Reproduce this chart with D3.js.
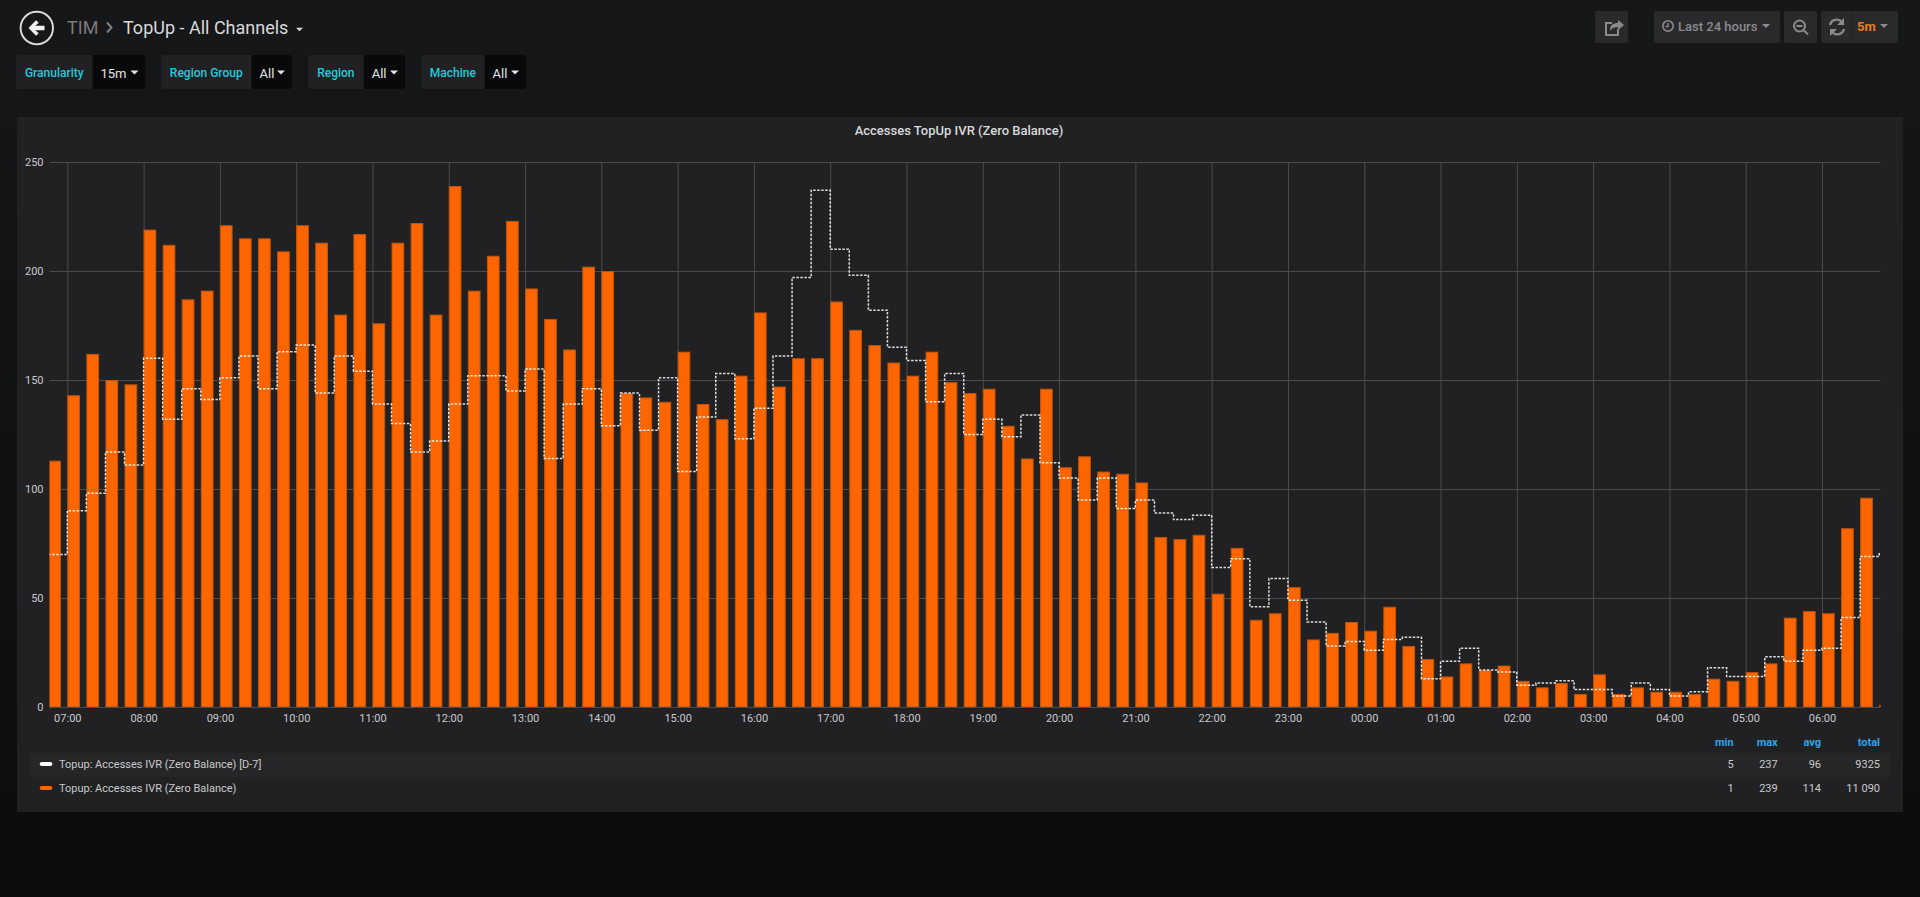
<!DOCTYPE html>
<html>
<head>
<meta charset="utf-8">
<title>TopUp - All Channels</title>
<script src="https://cdn.jsdelivr.net/npm/d3@7"></script>
<style>
  html, body { margin: 0; height: 100%; overflow: hidden; background: #0b0c0e; }
  svg { display: block; font-family: Roboto, sans-serif; }
  .tick text { fill: #c8c9ca; font-size: 11px; font-family: Roboto, sans-serif; }
  .tick line { stroke: #4b4b4d; }
  .domain { display: none; }
</style>
</head>
<body>
<svg id="page" width="1920" height="897"></svg>
<script>
const startTime = new Date(2019, 0, 7, 6, 45);
const yTicks = [0, 50, 100, 150, 200, 250];

// one value per 15 minutes, from 06:45 to 06:45 next day
const accesses = [
  113, 143, 162, 150, 148, 219, 212, 187, 191, 221, 215, 215, 209, 221, 213, 180,
  217, 176, 213, 222, 180, 239, 191, 207, 223, 192, 178, 164, 202, 200, 144, 142,
  140, 163, 139, 132, 152, 181, 147, 160, 160, 186, 173, 166, 158, 152, 163, 149,
  144, 146, 129, 114, 146, 110, 115, 108, 107, 103, 78, 77, 79, 52, 73, 40,
  43, 55, 31, 34, 39, 35, 46, 28, 22, 14, 20, 17, 19, 12, 9, 11,
  6, 15, 6, 9, 7, 7, 6, 13, 12, 16, 20, 41, 44, 43, 82, 96, 1,
];
const accessesD7 = [
  70, 90, 98, 117, 111, 160, 132, 146, 141, 151, 161, 146, 163, 166, 144, 161,
  154, 139, 130, 117, 122, 139, 152, 152, 145, 155, 114, 139, 146, 129, 144, 127,
  151, 108, 133, 153, 123, 137, 161, 197, 237, 210, 198, 182, 165, 159, 140, 153,
  125, 132, 124, 134, 112, 105, 95, 105, 91, 95, 89, 86, 88, 64, 68, 46,
  59, 49, 39, 28, 30, 26, 31, 32, 13, 21, 27, 17, 16, 10, 11, 12,
  8, 8, 5, 11, 8, 5, 7, 18, 14, 14, 23, 21, 26, 27, 41, 69, 71,
];

const legendNames = ['Topup: Accesses IVR (Zero Balance) [D-7]', 'Topup: Accesses IVR (Zero Balance)'];
const legendHeaders = ['min', 'max', 'avg', 'total'];
const legendStats = [['5', '237', '96', '9325'], ['1', '239', '114', '11 090']];

const svg = d3.select('#page');

// page background
const defs = svg.append('defs');
const bg = defs.append('linearGradient').attr('id', 'bg').attr('x2', 0).attr('y2', 1);
bg.append('stop').attr('offset', 0).attr('stop-color', '#161719');
bg.append('stop').attr('offset', 1).attr('stop-color', '#0b0c0e');
svg.append('rect').attr('width', 1920).attr('height', 897).attr('fill', 'url(#bg)');

drawHeader();
drawVariables();
drawToolbar();
drawPanel();

function addText(parent, x, y, text, size, fill, opts = {}) {
  return parent.append('text')
      .attr('x', x)
      .attr('y', y)
      .attr('dy', '0.35em')
      .attr('font-size', size)
      .attr('fill', fill)
      .attr('font-weight', opts.weight || 400)
      .attr('text-anchor', opts.anchor || 'start')
      .text(text);
}

function addCaret(parent, x, y, fill, size = 4) {
  parent.append('path')
      .attr('d', `M${x - size},${y - size / 2}h${size * 2}l${-size},${size}z`)
      .attr('fill', fill);
}

function drawHeader() {
  const g = svg.append('g');
  g.append('circle')
      .attr('cx', 36.8).attr('cy', 28).attr('r', 16.2)
      .attr('fill', 'none').attr('stroke', '#d8d9da').attr('stroke-width', 2);
  g.append('path')
      .attr('d', 'M28.5,28 L36,20.3 L38.8,22.8 L35.3,25.8 L44.5,25.8 L44.5,30.2 L35.3,30.2 L38.8,33.2 L36,35.7 Z')
      .attr('fill', '#f0f0f0');
  addText(g, 67, 27.5, 'TIM', 18, '#7b7b7e');
  g.append('path')
      .attr('d', 'M107,22.5 L111.5,27.5 L107,32.5')
      .attr('fill', 'none').attr('stroke', '#808083').attr('stroke-width', 2);
  addText(g, 123, 27.5, 'TopUp - All Channels', 18, '#d8d9da');
  addCaret(g, 299.5, 29.5, '#d8d9da', 3.5);
}

function drawVariables() {
  const vars = [
    {label: 'Granularity', value: '15m', x0: 16, x1: 92.5, x2: 145.5},
    {label: 'Region Group', value: 'All', x0: 161, x1: 251.5, x2: 292},
    {label: 'Region', value: 'All', x0: 308, x1: 363.7, x2: 405},
    {label: 'Machine', value: 'All', x0: 421, x1: 484.6, x2: 526},
  ];
  const g = svg.append('g');
  vars.forEach((v) => {
    g.append('rect').attr('x', v.x0).attr('y', 55).attr('width', v.x2 - v.x0).attr('height', 34)
        .attr('rx', 3).attr('fill', '#212124');
    g.append('path')
        .attr('d', `M${v.x1},55H${v.x2 - 3}a3,3 0 0 1 3,3V86a3,3 0 0 1 -3,3H${v.x1}Z`)
        .attr('fill', '#09090b');
    addText(g, (v.x0 + v.x1) / 2, 72.5, v.label, 12, '#24c8dc', {weight: 500, anchor: 'middle'});
    addText(g, v.x1 + 8, 73, v.value, 13, '#e3e3e3');
    addCaret(g, v.x2 - 11, 72.5, '#e3e3e3', 4);
  });
}

function drawToolbar() {
  const g = svg.append('g');
  const grey = '#8a8a8c';
  [[1595, 33], [1654, 126], [1784, 33], [1821, 77]].forEach(([x, w]) => {
    g.append('rect').attr('x', x).attr('y', 11).attr('width', w).attr('height', 32)
        .attr('rx', 2).attr('fill', '#2a2a2c');
  });
  g.append('rect').attr('x', 1852).attr('y', 11).attr('width', 1).attr('height', 32).attr('fill', '#232325');

  // share
  g.append('path')
      .attr('d', 'M1618,29v6h-12v-12h6')
      .attr('fill', 'none').attr('stroke', grey).attr('stroke-width', 2);
  g.append('path')
      .attr('d', 'M1610,31c0,-6 3,-8 8,-8v-3l6,5l-6,5v-3c-4,0 -6,1 -8,4z')
      .attr('fill', grey);

  // time range
  g.append('circle').attr('cx', 1668).attr('cy', 26).attr('r', 5.2)
      .attr('fill', 'none').attr('stroke', grey).attr('stroke-width', 1.6);
  g.append('path').attr('d', 'M1668,23v3.5h-2.5').attr('fill', 'none').attr('stroke', grey).attr('stroke-width', 1.4);
  addText(g, 1678, 26.5, 'Last 24 hours', 13, grey, {weight: 500});
  addCaret(g, 1766, 26, grey, 4);

  // zoom out
  g.append('circle').attr('cx', 1799.5).attr('cy', 26).attr('r', 5.5)
      .attr('fill', 'none').attr('stroke', grey).attr('stroke-width', 2);
  g.append('path').attr('d', 'M1803.5,30L1808,34.5M1796.5,26h6').attr('stroke', grey).attr('stroke-width', 2);

  // refresh
  g.append('path')
      .attr('d', 'M1830,25a7,7 0 0 1 12,-3M1844,29a7,7 0 0 1 -12,3')
      .attr('fill', 'none').attr('stroke', grey).attr('stroke-width', 2.4);
  g.append('path').attr('d', 'M1844,18v7h-7zM1830,36v-7h7z').attr('fill', grey);

  addText(g, 1857, 26.5, '5m', 13, '#eb7b18', {weight: 700});
  addCaret(g, 1884, 26, grey, 4);
}

function drawPanel() {
  const margin = {left: 49.5, right: 1880.5, top: 162, bottom: 707};
  const panel = svg.append('g');
  panel.append('rect').attr('x', 17).attr('y', 117).attr('width', 1886).attr('height', 695)
      .attr('fill', '#212124');
  addText(panel, 959, 130.5, 'Accesses TopUp IVR (Zero Balance)', 13, '#d8d9da', {weight: 500, anchor: 'middle'});

  const times = accesses.map((d, i) => d3.timeMinute.offset(startTime, i * 15));
  const x = d3.scaleTime()
      .domain([d3.timeMinute.offset(startTime, 1.2), d3.timeMinute.offset(startTime, 1441.4)])
      .range([margin.left, margin.right]);
  const y = d3.scaleLinear()
      .domain([0, 250])
      .range([margin.bottom, margin.top]);

  defs.append('clipPath').attr('id', 'plot-clip')
      .append('rect')
      .attr('x', margin.left).attr('y', margin.top - 1)
      .attr('width', margin.right - margin.left).attr('height', margin.bottom - margin.top + 1);

  // grid lines are the axis ticks
  panel.append('g')
      .attr('transform', `translate(0,${margin.bottom})`)
      .call(d3.axisBottom(x)
          .ticks(d3.timeHour.every(1))
          .tickFormat(d3.timeFormat('%H:%M'))
          .tickSize(-(margin.bottom - margin.top))
          .tickPadding(7))
      .call((g) => g.selectAll('.tick').filter((d) => x(d) < margin.left || x(d) > margin.right).remove());

  panel.append('g')
      .attr('transform', `translate(${margin.left},0)`)
      .call(d3.axisLeft(y)
          .tickValues(yTicks)
          .tickSize(-(margin.right - margin.left))
          .tickPadding(6));

  const plot = panel.append('g').attr('clip-path', 'url(#plot-clip)');

  plot.selectAll('rect.bar')
      .data(accesses)
      .enter().append('rect')
      .attr('class', 'bar')
      .attr('x', (d, i) => x(times[i]) + 0.5)
      .attr('y', (d) => y(d) + 0.5)
      .attr('width', (d, i) => x(d3.timeMinute.offset(times[i], 10)) - x(times[i]) - 1)
      .attr('height', (d) => y(0) - y(d) - 0.5)
      .attr('fill', '#fc6500')
      .attr('stroke', '#c0540a')
      .attr('stroke-width', 1);

  const line = d3.line()
      .x((d, i) => x(times[i]))
      .y((d) => y(d))
      .curve(d3.curveStepAfter);

  plot.append('path')
      .datum(accessesD7)
      .attr('d', line)
      .attr('fill', 'none')
      .attr('stroke', '#ffffff')
      .attr('stroke-opacity', 0.85)
      .attr('stroke-width', 1.5)
      .attr('stroke-dasharray', '2.5,1.5');

  drawLegend(panel);
}

function drawLegend(panel) {
  const statRight = [1733.7, 1777.7, 1821, 1880];
  const swatches = ['#ffffff', '#fa6400'];
  const rowY = [764, 788];

  panel.append('rect').attr('x', 30).attr('y', 753).attr('width', 1860).attr('height', 24)
      .attr('fill', '#262628');

  legendHeaders.forEach((h, i) => {
    addText(panel, statRight[i], 742, h, 11, '#33a2e5', {weight: 700, anchor: 'end'});
  });

  legendNames.forEach((name, r) => {
    panel.append('rect')
        .attr('x', 39.7).attr('y', rowY[r] - 2).attr('width', 12.6).attr('height', 4).attr('rx', 2)
        .attr('fill', swatches[r]);
    addText(panel, 59, rowY[r], name, 11, '#c8c9ca');
    legendStats[r].forEach((v, i) => {
      addText(panel, statRight[i], rowY[r], v, 11, '#c8c9ca', {anchor: 'end'});
    });
  });
}
</script>
</body>
</html>
